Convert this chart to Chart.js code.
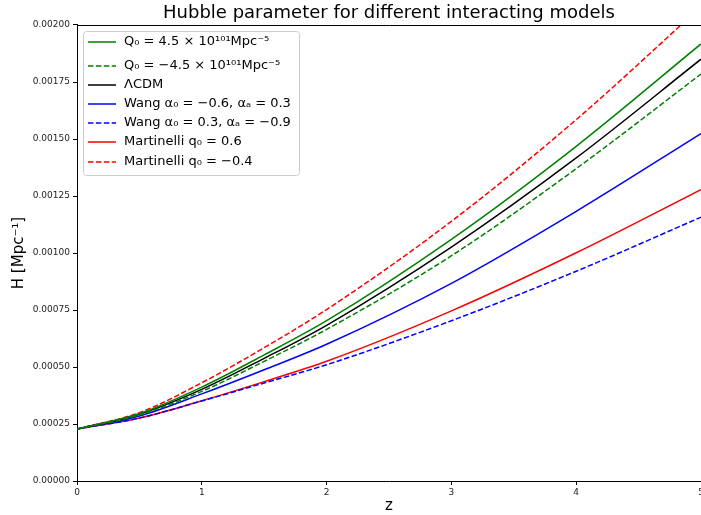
<!DOCTYPE html>
<html>
<head>
<meta charset="utf-8">
<script src="https://cdn.jsdelivr.net/npm/chart.js@4/dist/chart.umd.min.js"></script>
<style>
  html, body { margin: 0; padding: 0; background: #fff; overflow: hidden; }
  #wrap { width: 720px; height: 515px; }
</style>
</head>
<body>
<div id="wrap"><canvas id="chart" width="720" height="515"></canvas></div>
<script>
'use strict';

// ── Data ─────────────────────────────────────────────────────────────────────
const zValues = [0, 0.5, 1, 1.5, 2, 3, 4, 5];

const qPositive   = [0.000228, 0.000296, 0.000412, 0.000553, 0.000703, 0.001060, 0.001468, 0.001917];
const qNegative   = [0.000228, 0.000290, 0.000393, 0.000525, 0.000665, 0.000988, 0.001370, 0.001785];
const lcdm        = [0.000228, 0.000293, 0.000402, 0.000538, 0.000683, 0.001026, 0.001417, 0.001850];
const wangA       = [0.000228, 0.000285, 0.000382, 0.000488, 0.000600, 0.000867, 0.001183, 0.001524];
const wangB       = [0.000228, 0.000276, 0.000351, 0.000430, 0.000510, 0.000703, 0.000920, 0.001157];
const martinelliA = [0.000228, 0.000276, 0.000352, 0.000436, 0.000525, 0.000746, 0.001001, 0.001278];
const martinelliB = [0.000228, 0.000300, 0.000431, 0.000585, 0.000752, 0.001139, 0.001585, 0.002080];

const seriesLabels = [
  'Q\u2080 = 4.5 \u00d7 10\u00b9\u2070\u00b9Mpc\u207b\u2075',
  'Q\u2080 = \u22124.5 \u00d7 10\u00b9\u2070\u00b9Mpc\u207b\u2075',
  '\u039bCDM',
  'Wang \u03b1\u2080 = \u22120.6, \u03b1\u2090 = 0.3',
  'Wang \u03b1\u2080 = 0.3, \u03b1\u2090 = \u22120.9',
  'Martinelli q\u2080 = 0.6',
  'Martinelli q\u2080 = \u22120.4',
];

const yTicks = [0, 0.00025, 0.0005, 0.00075, 0.001, 0.00125, 0.0015, 0.00175, 0.002];
const xTicks = [0, 1, 2, 3, 4, 5];

// ── Helpers ──────────────────────────────────────────────────────────────────
const FONT = 'DejaVu Sans';
const DASH = [5.5, 2.4];

function series(label, ys, color, dashed) {
  return {
    label,
    data: zValues.map((z, i) => ({ x: z, y: ys[i] })),
    borderColor: color,
    backgroundColor: color,
    borderWidth: 1.5,
    borderDash: dashed ? DASH : [],
    pointRadius: 0,
    cubicInterpolationMode: 'monotone',
    fill: false,
  };
}

// top spine (left and bottom come from the axis borders)
const frame = {
  id: 'frame',
  afterDatasetsDraw(chart) {
    const { ctx, chartArea: a } = chart;
    ctx.save();
    ctx.strokeStyle = '#000';
    ctx.lineWidth = 1;
    ctx.beginPath();
    ctx.moveTo(a.left, Math.round(a.top) + 0.5);
    ctx.lineTo(a.right + 1, Math.round(a.top) + 0.5);
    ctx.stroke();
    ctx.restore();
  },
};

// legend box in the upper left corner of the plot
const legendBox = {
  id: 'legendBox',
  afterDraw(chart) {
    const { ctx, chartArea: a } = chart;
    const x0 = a.left + 6, y0 = a.top + 6, w = 216, h = 144;
    const rows = [17, 41, 60, 79, 98, 117, 137];
    ctx.save();
    ctx.beginPath();
    ctx.roundRect(x0 + 0.5, y0 + 0.5, w, h, 3);
    ctx.fillStyle = 'rgba(255,255,255,0.8)';
    ctx.fill();
    ctx.strokeStyle = '#cccccc';
    ctx.lineWidth = 1;
    ctx.stroke();

    ctx.font = `13px "${FONT}"`;
    ctx.textBaseline = 'middle';
    chart.data.datasets.forEach((ds, i) => {
      const y = a.top + rows[i];
      ctx.beginPath();
      ctx.setLineDash(ds.borderDash);
      ctx.strokeStyle = ds.borderColor;
      ctx.lineWidth = 1.5;
      ctx.moveTo(a.left + 11, y);
      ctx.lineTo(a.left + 39, y);
      ctx.stroke();
      ctx.setLineDash([]);
      ctx.fillStyle = '#000';
      ctx.fillText(ds.label, a.left + 47, y);
    });
    ctx.restore();
  },
};

// ── Chart ────────────────────────────────────────────────────────────────────
new Chart(document.getElementById('chart'), {
  type: 'line',
  data: {
    datasets: [
      series(seriesLabels[0], qPositive,   '#008000', false),
      series(seriesLabels[1], qNegative,   '#008000', true),
      series(seriesLabels[2], lcdm,        '#000000', false),
      series(seriesLabels[3], wangA,       '#0000ff', false),
      series(seriesLabels[4], wangB,       '#0000ff', true),
      series(seriesLabels[5], martinelliA, '#ff0000', false),
      series(seriesLabels[6], martinelliB, '#ff0000', true),
    ],
  },
  options: {
    responsive: false,
    animation: false,
    devicePixelRatio: 1,
    layout: { padding: { left: 0, right: 19, top: 0, bottom: 0 } },
    plugins: {
      legend: { display: false },
      tooltip: { enabled: false },
      title: {
        display: true,
        fullSize: false,
        text: 'Hubble parameter for different interacting models',
        color: '#000',
        font: { family: FONT, size: 18, weight: 'normal' },
        padding: { top: 3, bottom: 0.4 },
      },
    },
    scales: {
      x: {
        type: 'linear',
        min: 0,
        max: 5,
        afterFit: s => { s.height = 34; },
        afterBuildTicks: s => { s.ticks = xTicks.map(v => ({ value: v })); },
        ticks: { color: '#222', font: { family: FONT, size: 9 }, padding: 2, maxRotation: 0,
                 callback: v => String(v) },
        grid: { drawOnChartArea: false, drawTicks: true, tickLength: 4, tickColor: '#000' },
        border: { display: true, color: '#000', width: 1 },
        title: { display: true, text: 'z', color: '#000',
                 font: { family: FONT, size: 15 }, padding: { top: 0, bottom: 0 } },
      },
      y: {
        type: 'linear',
        min: 0,
        max: 0.002,
        afterFit: s => { s.width = 77; },
        afterBuildTicks: s => { s.ticks = yTicks.map(v => ({ value: v })); },
        ticks: { color: '#222', font: { family: FONT, size: 9 }, padding: 3,
                 callback: v => v.toFixed(5) },
        grid: { drawOnChartArea: false, drawTicks: true, tickLength: 4, tickColor: '#000' },
        border: { display: true, color: '#000', width: 1 },
        title: { display: true, text: 'H [Mpc\u207b\u00b9]', color: '#000',
                 font: { family: FONT, size: 15 }, padding: { top: 10, bottom: 0 } },
      },
    },
  },
  plugins: [frame, legendBox],
});
</script>
</body>
</html>
